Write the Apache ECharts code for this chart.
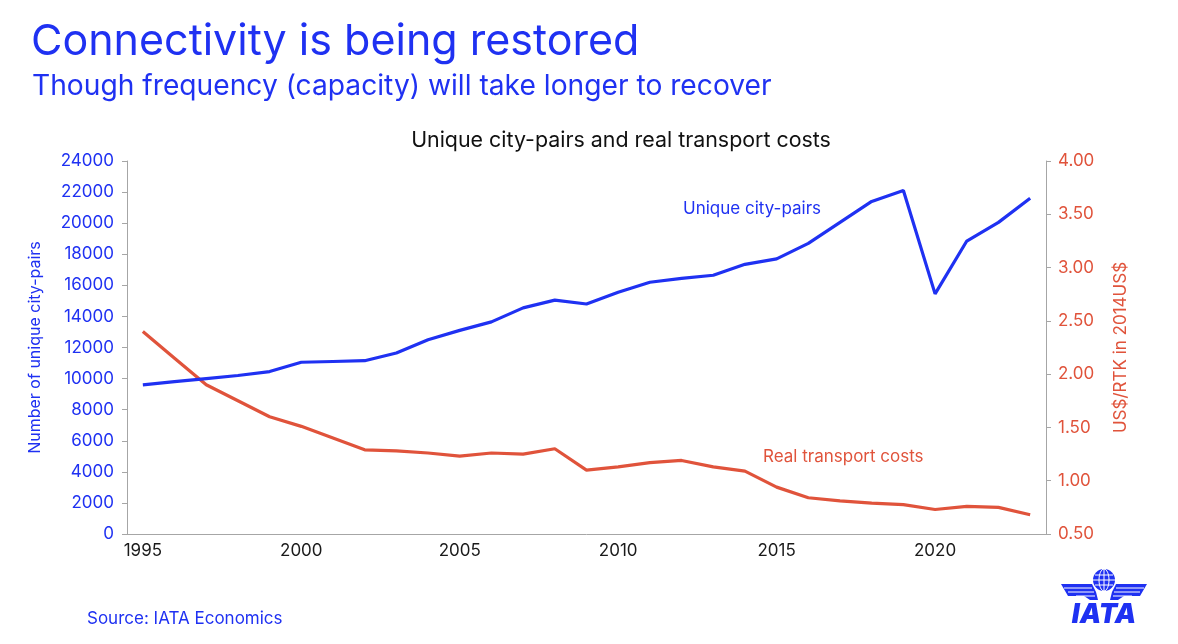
<!DOCTYPE html>
<html>
<head>
<meta charset="utf-8">
<script src="https://cdn.jsdelivr.net/npm/echarts@6/dist/echarts.min.js"></script>
<style>
html,body{margin:0;padding:0;background:#fff;}
#chart{width:1178px;height:644px;}
</style>
</head>
<body>
<div id="chart"></div>
<script>
const years = ['1995','1996','1997','1998','1999','2000','2001','2002','2003','2004','2005','2006','2007','2008','2009','2010','2011','2012','2013','2014','2015','2016','2017','2018','2019','2020','2021','2022','2023'];
const cityPairs = [9600,9800,10000,10200,10450,11050,11100,11150,11650,12500,13100,13650,14550,15050,14800,15550,16200,16450,16650,17350,17700,18700,20050,21400,22100,15450,18850,20050,21600];
const transportCosts = [2.40,2.15,1.90,1.75,1.60,1.51,1.40,1.29,1.28,1.26,1.23,1.26,1.25,1.30,1.10,1.13,1.17,1.19,1.13,1.09,0.94,0.84,0.81,0.79,0.775,0.73,0.76,0.75,0.68];

const BLUE = '#1f31f2';
const RED = '#e0533b';
const FONT = 'Inter';

const chart = echarts.init(document.getElementById('chart'), null, {renderer:'canvas'});
chart.setOption({
  animation:false,
  backgroundColor:'#ffffff',
  textStyle:{fontFamily:FONT},
  grid:{left:127,right:132,top:161,bottom:110,containLabel:false},
  xAxis:{
    type:'category',
    data:years,
    boundaryGap:true,
    axisLine:{lineStyle:{color:'#a6a6a6',width:1}},
    axisTick:{interval:0,length:5,lineStyle:{color:'#a6a6a6'}},
    axisLabel:{interval:4,color:'#1a1a1a',fontSize:17,fontFamily:FONT,margin:8}
  },
  yAxis:[{
    type:'value',min:0,max:24000,interval:2000,
    name:'Number of unique city-pairs',nameLocation:'middle',nameRotate:90,nameGap:84,
    nameTextStyle:{color:BLUE,fontSize:16,fontFamily:FONT},
    axisLine:{show:true,lineStyle:{color:'#a6a6a6'}},
    axisTick:{show:true,length:5,lineStyle:{color:'#a6a6a6'}},
    splitLine:{show:false},
    axisLabel:{color:BLUE,fontSize:17,fontFamily:FONT,margin:13,formatter:v=>String(v)}
  },{
    type:'value',min:0.5,max:4,interval:0.5,position:'right',
    name:'US$/RTK in 2014US$',nameLocation:'middle',nameRotate:90,nameGap:66,
    nameTextStyle:{color:RED,fontSize:17,fontFamily:FONT},
    axisLine:{show:true,lineStyle:{color:'#a6a6a6'}},
    axisTick:{show:true,length:5,lineStyle:{color:'#a6a6a6'}},
    splitLine:{show:false},
    axisLabel:{color:RED,fontSize:17,fontFamily:FONT,margin:12,formatter:v=>v.toFixed(2)}
  }],
  series:[{
    name:'Real transport costs',type:'line',yAxisIndex:1,data:transportCosts,
    symbol:'none',lineStyle:{color:RED,width:3.2},itemStyle:{color:RED}
  },{
    name:'Unique city-pairs',type:'line',yAxisIndex:0,data:cityPairs,
    symbol:'none',lineStyle:{color:BLUE,width:3.2},itemStyle:{color:BLUE}
  }],
  graphic:[
    {type:'text',left:31,top:21,style:{text:'Connectivity is being restored',fill:BLUE,font:'43px Inter'}},
    {type:'text',left:32,top:73,style:{text:'Though frequency (capacity) will take longer to recover',fill:BLUE,font:'28.2px Inter'}},
    {type:'text',x:621,y:141,style:{text:'Unique city-pairs and real transport costs',fill:'#111',font:'21.4px Inter',align:'center',verticalAlign:'middle'}},
    {type:'text',x:683,y:209,style:{text:'Unique city-pairs',fill:BLUE,font:'17px Inter',verticalAlign:'middle'}},
    {type:'text',x:763,y:457,style:{text:'Real transport costs',fill:RED,font:'17px Inter',verticalAlign:'middle'}},
    {type:'text',x:87,y:619,style:{text:'Source: IATA Economics',fill:BLUE,font:'17px Inter',verticalAlign:'middle'}},
    // IATA logo
    {type:'group',x:1104,y:594,children:[
      {type:'circle',shape:{cx:0,cy:-14,r:11},style:{fill:BLUE}},
      {type:'ellipse',shape:{cx:0,cy:-14,rx:5,ry:11},style:{fill:'none',stroke:'#fff',lineWidth:1}},
      {type:'line',shape:{x1:0,y1:-25,x2:0,y2:-3},style:{stroke:'#fff',lineWidth:1}},
      {type:'line',shape:{x1:-11,y1:-14,x2:11,y2:-14},style:{stroke:'#fff',lineWidth:1}},
      {type:'line',shape:{x1:-9,y1:-19,x2:9,y2:-19},style:{stroke:'#fff',lineWidth:1}},
      {type:'line',shape:{x1:-9,y1:-9,x2:9,y2:-9},style:{stroke:'#fff',lineWidth:1}},
      {type:'polygon',shape:{points:[[-43,-10],[-12,-10],[-8,-2],[-6,6],[-14,6],[-20,2],[-36,2]]},style:{fill:BLUE}},
      {type:'polygon',shape:{points:[[43,-10],[12,-10],[8,-2],[6,6],[14,6],[20,2],[36,2]]},style:{fill:BLUE}},
      {type:'line',shape:{x1:-40,y1:-6,x2:-12,y2:-6},style:{stroke:'#fff',lineWidth:1}},
      {type:'line',shape:{x1:-36,y1:-2,x2:-10,y2:-2},style:{stroke:'#fff',lineWidth:1}},
      {type:'line',shape:{x1:-28,y1:2,x2:-9,y2:2},style:{stroke:'#fff',lineWidth:1}},
      {type:'line',shape:{x1:40,y1:-6,x2:12,y2:-6},style:{stroke:'#fff',lineWidth:1}},
      {type:'line',shape:{x1:36,y1:-2,x2:10,y2:-2},style:{stroke:'#fff',lineWidth:1}},
      {type:'line',shape:{x1:28,y1:2,x2:9,y2:2},style:{stroke:'#fff',lineWidth:1}},
      {type:'text',x:0,y:21,style:{text:'IATA',fill:BLUE,font:'italic 900 27px Inter',align:'center',verticalAlign:'middle'}}
    ]}
  ]
});
</script>
</body>
</html>
